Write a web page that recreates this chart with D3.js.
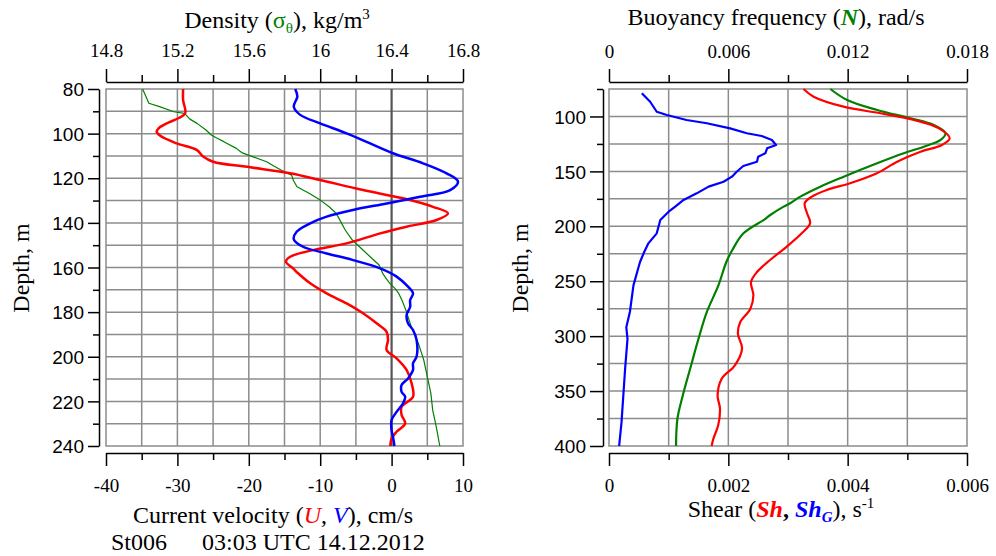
<!DOCTYPE html>
<html><head><meta charset="utf-8">
<script src="https://cdn.jsdelivr.net/npm/d3@7"></script>
<style>body{margin:0;background:#fff}</style>
</head><body>
<script>
// ---------- DATA ----------
// Left panel: current velocity (cm/s) and density vs depth (m)
const uDepth = [80,85,90.8,93,95.4,97.5,99.1,101,104.4,107.3,110.3,112.6,115.1,117.8,120.8,125.3,129,132.8,135.7,138.7,141.7,144.7,149.2,152.2,155.2,157.4,160.4,162.6,167.1,171.6,176.1,180.5,185,188.8,192.5,197,200.7,205.9,211.9,217.9,222.4,226.1,229.9,233.6,236.6,240];
const uVal   = [-29.2,-29.2,-28.9,-29.8,-31.5,-32.6,-32.9,-32.4,-30.1,-27.3,-26.4,-25.0,-19.8,-14.2,-10.0,-4.0,1.6,5.8,7.9,6.3,2.1,-1.6,-6.3,-11.0,-14.2,-14.8,-13.8,-13.1,-11.4,-9.1,-6.3,-4.0,-2.1,-0.7,-0.5,-0.7,0.7,2.1,2.8,3.0,1.4,1.4,1.9,0.7,0.0,-0.2];
const vDepth = [80,83.4,87.9,91.6,95.4,99.9,104.4,108.8,113.3,117.8,121.5,125.3,128.3,131.3,134.2,137.2,140.2,144,147.4,150.7,153.7,156.6,160.4,164.1,168.6,171.6,174.6,177.6,181.3,185,188,192.5,199.9,202.9,205.9,209.7,212.7,215.7,217.9,220.9,224.7,228.4,232.9,235.9,240];
const vVal   = [-13.5,-13.2,-13.7,-12.8,-10.0,-6.3,-3.0,0.2,4.4,7.7,9.3,8.2,4.0,-0.7,-5.4,-9.1,-11.4,-13.3,-13.7,-12.4,-9.1,-5.5,-1.6,0.7,2.3,3.0,2.6,2.6,2.1,2.3,3.0,3.5,3.5,3.0,3.0,2.3,1.4,1.4,1.9,1.6,0.7,0.0,0.0,0.2,0.4];
const rhoDepth = [80,82.7,86.4,87.9,90.2,90.9,93.5,95.4,98.4,100.6,102,103.6,106.6,108.5,110.3,112.6,114.5,116.3,118.6,121,123.8,126.8,129.8,132.8,135,137.2,143.2,147.7,150.7,155.2,158.9,162.6,165,167.1,169.5,171.6,175,179.1,186.5,194,201.4,208.9,216.4,223.8,231.3,240];
const rhoVal   = [15.005,15.02,15.04,15.10,15.18,15.24,15.27,15.31,15.36,15.39,15.42,15.46,15.53,15.56,15.62,15.70,15.74,15.78,15.84,15.85,15.87,15.94,16.00,16.05,16.08,16.10,16.14,16.18,16.22,16.28,16.33,16.35,16.37,16.39,16.42,16.44,16.46,16.48,16.51,16.55,16.58,16.60,16.62,16.63,16.65,16.67];

// Right panel: shear (1/s) and buoyancy frequency (rad/s) vs depth (m)
const shDepth = [75,82,91.1,97.1,103.2,110.8,119.9,126,132.1,141.2,151.7,160.8,166.9,173,179,188.1,197.2,206.4,218.5,230.7,241.6,250.7,262.8,275,287.1,297.7,311.4,326.6,338.7,353.9,366,381.2,393.3,400];
const shVal   = [0.00326,0.00343,0.00393,0.00455,0.00511,0.00553,0.00571,0.00558,0.00522,0.00483,0.00449,0.00404,0.00365,0.0034,0.00328,0.00332,0.00337,0.00323,0.00298,0.0027,0.00248,0.00238,0.00242,0.00237,0.0022,0.00216,0.00223,0.00211,0.00189,0.00182,0.00186,0.00183,0.00175,0.00172];
const shgDepth = [78.9,86.6,95.7,98.7,103.2,106.2,110.8,115.3,117.8,121.4,126,129,133.5,136.6,141.2,145.1,150.3,154.8,159.4,163.9,170,176,182.1,186.7,194.3,206.4,215.5,224.6,232.5,238.2,253.8,278,291.8,302.4,329.7,354,378.3,400];
const shgVal   = [0.00055,0.00069,0.0008,0.00097,0.0013,0.00164,0.00203,0.00231,0.00256,0.00273,0.0028,0.00265,0.00262,0.0025,0.00248,0.00225,0.00214,0.00206,0.00192,0.00167,0.00147,0.00125,0.00111,0.001,0.00086,0.0008,0.00066,0.00058,0.00052,0.00049,0.00041,0.00035,0.00029,0.00031,0.00027,0.00024,0.00021,0.00017];
const nDepth = [75,85,94.1,101.7,107.8,115.3,121.4,127.5,133.5,142.6,154.8,163.9,173,179,182.1,189.7,194.3,206.4,221.6,232.5,253.8,278,302.4,329.7,354,375.2,400];
const nVal   = [0.01113,0.01197,0.01348,0.01516,0.01633,0.01692,0.01667,0.01583,0.01482,0.01348,0.0118,0.01062,0.00962,0.00911,0.00878,0.00811,0.00777,0.00676,0.0062,0.0059,0.0055,0.00492,0.0045,0.00408,0.00371,0.00344,0.00337];

// Tick values
const velTicks = [-40,-30,-20,-10,0,10];
const velMinor = [-35,-25,-15,-5,5];
const rhoTicks = [14.8,15.2,15.6,16,16.4,16.8];
const rhoMinor = [15.0,15.4,15.8,16.2,16.6];
const depthLTicks = [80,100,120,140,160,180,200,220,240];
const depthLMinor = [90,110,130,150,170,190,210,230];
const shTicks = [0,0.002,0.004,0.006];
const shMinor = [0.001,0.003,0.005];
const nTicks = [0,0.006,0.012,0.018];
const nMinor = [0.003,0.009,0.015];
const depthRTicks = [100,150,200,250,300,350,400];
const depthRMinor = [75,125,175,225,275,325,375];

// ---------- DRAWING ----------
const SERIF = "Liberation Serif, Times New Roman, serif";
const SANS = "Liberation Sans, Arial, sans-serif";
const RED="#ff0000", BLUE="#0000ff", GREEN="#008000", GRID="#8c8c8c";

const svg = d3.select("body").append("svg").attr("width",996).attr("height",556);

const L = {x0:106,x1:463,y0:89,y1:446};
const R = {x0:609,x1:967,y0:89,y1:446};

const uX = d3.scaleLinear([-40,10],[L.x0,L.x1]);
const rhoX = d3.scaleLinear([14.8,16.8],[L.x0,L.x1]);
const dL = d3.scaleLinear([80,240],[L.y0,L.y1]);
const shX = d3.scaleLinear([0,0.006],[R.x0,R.x1]);
const nX = d3.scaleLinear([0,0.018],[R.x0,R.x1]);
const dR = d3.scaleLinear([75,400],[R.y0,R.y1]);

function grid(P, xs, xScale, ys, yScale){
  const g = svg.append("g");
  g.selectAll("line.v").data(xs).join("line")
    .attr("x1",d=>xScale(d)).attr("x2",d=>xScale(d)).attr("y1",P.y0).attr("y2",P.y1)
    .attr("stroke",GRID).attr("stroke-width",1.5);
  g.selectAll("line.h").data(ys).join("line")
    .attr("y1",d=>yScale(d)).attr("y2",d=>yScale(d)).attr("x1",P.x0).attr("x2",P.x1)
    .attr("stroke",GRID).attr("stroke-width",1.5);
  g.append("rect").attr("x",P.x0).attr("y",P.y0).attr("width",P.x1-P.x0).attr("height",P.y1-P.y0)
    .attr("fill","none").attr("stroke",GRID).attr("stroke-width",1.5);
  return g;
}

// Left grid
grid(L, [-35,-30,-25,-20,-15,-10,-5,5], uX, depthLMinor.concat(depthLTicks.slice(1,-1)), dL);
svg.append("line").attr("x1",uX(0)).attr("x2",uX(0)).attr("y1",L.y0).attr("y2",L.y1)
  .attr("stroke","#555").attr("stroke-width",2.2);
// Right grid
grid(R, shMinor.concat(shTicks.slice(1,-1)), shX, depthRMinor.slice(1).concat(depthRTicks.slice(0,-1)), dR);

function styleAxis(g){
  g.selectAll("path.domain").attr("stroke","#000").attr("stroke-width",1.5);
  g.selectAll(".tick line").attr("stroke","#000").attr("stroke-width",1.5);
}
function axisPair(axisGen, scale, major, minor, bigSize, smallSize, transform, font, fsize, textFn){
  const gMin = svg.append("g").attr("transform",transform)
    .call(axisGen(scale).tickValues(minor).tickSize(smallSize).tickSizeOuter(0).tickFormat(""));
  gMin.select("path.domain").remove();
  styleAxis(gMin);
  const gMaj = svg.append("g").attr("transform",transform)
    .call(axisGen(scale).tickValues(major).tickSize(bigSize).tickSizeOuter(0).tickFormat(d=>String(d)));
  styleAxis(gMaj);
  gMaj.attr("font-family",font).attr("font-size",fsize);
  gMaj.selectAll("text").attr("fill","#000").style("font-family",font).style("font-size",fsize+"px");
  textFn(gMaj.selectAll("text"));
  return gMaj;
}

// Left panel axes
axisPair(d3.axisBottom, uX, velTicks, velMinor, 13, 7, "translate(0,453)", SERIF, 19,
  t=>t.attr("dy",null).attr("y",39));
axisPair(d3.axisTop, rhoX, rhoTicks, rhoMinor, 13, 7, "translate(0,82)", SERIF, 19,
  t=>t.attr("dy",null).attr("y",-25));
axisPair(d3.axisLeft, dL, depthLTicks, depthLMinor, 11, 6, "translate(99,0)", SANS, 19,
  t=>t.attr("x",-15).attr("dy","0.35em"));

// Right panel axes
axisPair(d3.axisBottom, shX, shTicks, shMinor, 13, 7, "translate(0,453)", SERIF, 19,
  t=>t.attr("dy",null).attr("y",39));
axisPair(d3.axisTop, nX, nTicks, nMinor, 13, 7, "translate(0,82)", SERIF, 19,
  t=>t.attr("dy",null).attr("y",-24));
axisPair(d3.axisLeft, dR, depthRTicks, depthRMinor, 13, 6, "translate(603,0)", SANS, 19,
  t=>t.attr("x",-17).attr("dy","0.35em"));

// Lines
function series(xs, ys, xScale, yScale, color, width, curve){
  const pts = xs.map((x,i)=>[x, ys[i]]);
  const line = d3.line().x(d=>xScale(d[0])).y(d=>yScale(d[1])).curve(curve);
  svg.append("path").attr("d",line(pts)).attr("fill","none")
    .attr("stroke",color).attr("stroke-width",width).attr("stroke-linejoin","round");
}
series(rhoVal, rhoDepth, rhoX, dL, GREEN, 1.2, d3.curveLinear);
series(uVal, uDepth, uX, dL, RED, 2.5, d3.curveCatmullRom);
series(vVal, vDepth, uX, dL, BLUE, 2.5, d3.curveCatmullRom);

series(shgVal, shgDepth, shX, dR, BLUE, 2.2, d3.curveLinear);
series(nVal, nDepth, nX, dR, GREEN, 2.2, d3.curveCatmullRom);
series(shVal, shDepth, shX, dR, RED, 2.2, d3.curveCatmullRom);

// Titles
const TS = 24;
function txt(x,y,anchor){
  return svg.append("text").attr("x",x).attr("y",y).attr("text-anchor",anchor||"middle")
    .style("font-family",SERIF).style("font-size",TS+"px").attr("fill","#000");
}
let t = txt(277,28);
t.append("tspan").text("Density (");
t.append("tspan").attr("fill",GREEN).text("σ");
t.append("tspan").attr("fill",GREEN).style("font-size","15px").attr("dy",5).text("θ");
t.append("tspan").attr("dy",-5).text("), kg/m");
t.append("tspan").style("font-size","15px").attr("dy",-9).text("3");

t = txt(776,25);
t.append("tspan").text("Buoyancy frequency (");
t.append("tspan").attr("fill",GREEN).attr("font-weight","bold").attr("font-style","italic").text("N");
t.append("tspan").text("), rad/s");

t = txt(273,523);
t.append("tspan").text("Current velocity (");
t.append("tspan").attr("fill",RED).attr("font-style","italic").text("U");
t.append("tspan").text(", ");
t.append("tspan").attr("fill",BLUE).attr("font-style","italic").text("V");
t.append("tspan").text("), cm/s");

txt(111,550,"start").text("St006");
txt(202,550,"start").text("03:03 UTC 14.12.2012");

t = txt(781,517);
t.append("tspan").text("Shear (");
t.append("tspan").attr("fill",RED).attr("font-weight","bold").attr("font-style","italic").text("Sh");
t.append("tspan").attr("font-weight","bold").text(", ");
t.append("tspan").attr("fill",BLUE).attr("font-weight","bold").attr("font-style","italic").text("Sh");
t.append("tspan").attr("fill",BLUE).attr("font-weight","bold").attr("font-style","italic").style("font-size","15px").attr("dy",5).text("G");
t.append("tspan").attr("dy",-5).text("), s");
t.append("tspan").style("font-size","15px").attr("dy",-9).text("-1");

svg.append("text").attr("transform","translate(29,268) rotate(-90)").attr("text-anchor","middle")
  .style("font-family",SERIF).style("font-size",TS+"px").text("Depth, m");
svg.append("text").attr("transform","translate(528,268) rotate(-90)").attr("text-anchor","middle")
  .style("font-family",SERIF).style("font-size",TS+"px").text("Depth, m");
</script>
</body></html>
